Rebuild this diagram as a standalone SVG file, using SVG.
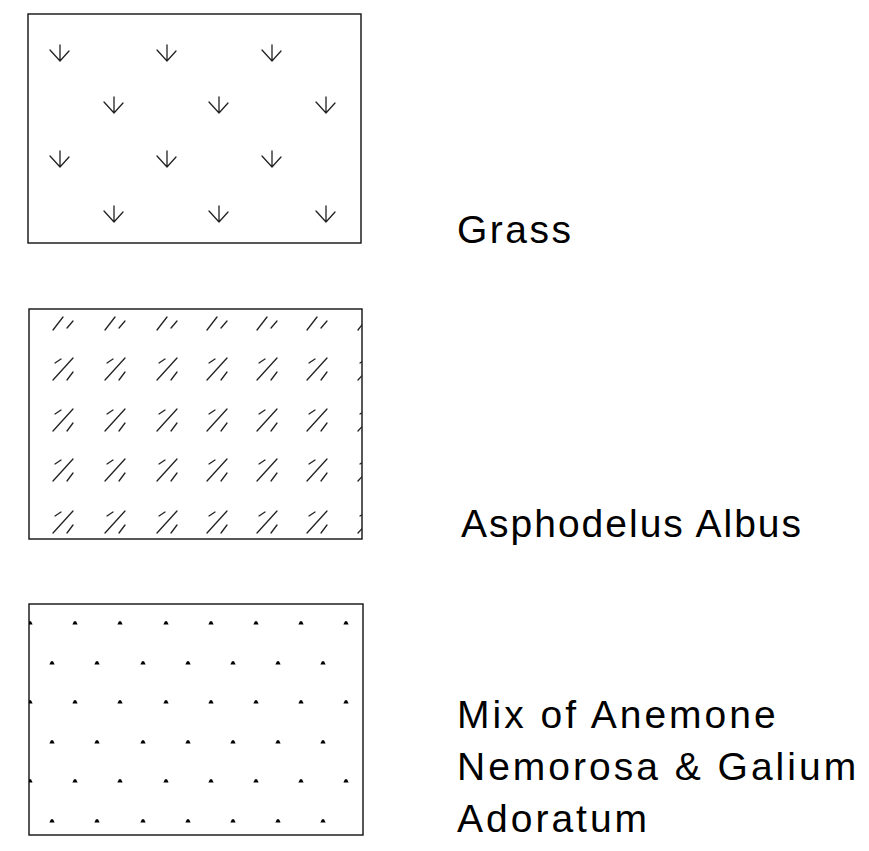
<svg xmlns="http://www.w3.org/2000/svg" width="869" height="851" viewBox="0 0 869 851">
<style>
.box{fill:none;stroke:#111;stroke-width:1.4}
.sym{fill:none;stroke:#222;stroke-width:1.3;stroke-linecap:round}
.lab{font-family:"Liberation Sans",Arial,sans-serif;font-size:39px;fill:#000;letter-spacing:2.5px}
</style>
<defs>
<g id="grass"><path class="sym" d="M0,-16V0M-10,-11L0,0L9,-10"/></g>
<g id="asph"><path class="sym" d="M-8,-6L-2,-10M-10,11L10,-11M4,11L10,3"/></g>
<g id="asph1"><path class="sym" d="M-10,7L0,-6M4,5L10,-2"/></g>
<path id="dot" d="M-2.6,1.6L-1,-1.7L1,-1.7L2.6,1.6Z" fill="#000"/>
<clipPath id="clip2"><rect x="29" y="309" width="333" height="230"/></clipPath>
<clipPath id="clip3"><rect x="29" y="604" width="334" height="231"/></clipPath>
</defs>
<rect width="869" height="851" fill="#fff"/>

<g id="grass-legend">
<rect class="box" x="28" y="14" width="333" height="229"/>
<use href="#grass" x="60" y="61"/><use href="#grass" x="167" y="61"/><use href="#grass" x="272" y="61"/>
<use href="#grass" x="114" y="113"/><use href="#grass" x="219" y="113"/><use href="#grass" x="326" y="113"/>
<use href="#grass" x="60" y="167"/><use href="#grass" x="167" y="167"/><use href="#grass" x="272" y="167"/>
<use href="#grass" x="114" y="222"/><use href="#grass" x="219" y="222"/><use href="#grass" x="326" y="222"/>
<text class="lab" x="457" y="243">Grass</text>
</g>

<g id="asphodelus-legend">
<rect class="box" x="29" y="309" width="333" height="230"/>
<g clip-path="url(#clip2)">
<use href="#asph1" x="63" y="323"/><use href="#asph1" x="115" y="323"/><use href="#asph1" x="167" y="323"/><use href="#asph1" x="217" y="323"/><use href="#asph1" x="267" y="323"/><use href="#asph1" x="317" y="323"/><use href="#asph1" x="368" y="323"/>
<use href="#asph" x="63" y="369"/><use href="#asph" x="115" y="369"/><use href="#asph" x="167" y="369"/><use href="#asph" x="217" y="369"/><use href="#asph" x="267" y="369"/><use href="#asph" x="317" y="369"/><use href="#asph" x="368" y="369"/>
<use href="#asph" x="63" y="420"/><use href="#asph" x="115" y="420"/><use href="#asph" x="167" y="420"/><use href="#asph" x="217" y="420"/><use href="#asph" x="267" y="420"/><use href="#asph" x="317" y="420"/><use href="#asph" x="368" y="420"/>
<use href="#asph" x="63" y="470"/><use href="#asph" x="115" y="470"/><use href="#asph" x="167" y="470"/><use href="#asph" x="217" y="470"/><use href="#asph" x="267" y="470"/><use href="#asph" x="317" y="470"/><use href="#asph" x="368" y="470"/>
<use href="#asph" x="63" y="522"/><use href="#asph" x="115" y="522"/><use href="#asph" x="167" y="522"/><use href="#asph" x="217" y="522"/><use href="#asph" x="267" y="522"/><use href="#asph" x="317" y="522"/><use href="#asph" x="368" y="522"/>
</g>
<text class="lab" x="461" y="537" style="letter-spacing:2px">Asphodelus Albus</text>
</g>

<g id="mix-legend">
<rect class="box" x="29" y="604" width="334" height="231"/>
<g clip-path="url(#clip3)">
<use href="#dot" x="30" y="623"/><use href="#dot" x="75" y="623"/><use href="#dot" x="120" y="623"/><use href="#dot" x="166" y="623"/><use href="#dot" x="211" y="623"/><use href="#dot" x="256" y="623"/><use href="#dot" x="301" y="623"/><use href="#dot" x="346" y="623"/>
<use href="#dot" x="52" y="663"/><use href="#dot" x="97" y="663"/><use href="#dot" x="143" y="663"/><use href="#dot" x="188" y="663"/><use href="#dot" x="233" y="663"/><use href="#dot" x="278" y="663"/><use href="#dot" x="323" y="663"/>
<use href="#dot" x="30" y="702"/><use href="#dot" x="75" y="702"/><use href="#dot" x="120" y="702"/><use href="#dot" x="166" y="702"/><use href="#dot" x="211" y="702"/><use href="#dot" x="256" y="702"/><use href="#dot" x="301" y="702"/><use href="#dot" x="346" y="702"/>
<use href="#dot" x="52" y="742"/><use href="#dot" x="97" y="742"/><use href="#dot" x="143" y="742"/><use href="#dot" x="188" y="742"/><use href="#dot" x="233" y="742"/><use href="#dot" x="278" y="742"/><use href="#dot" x="323" y="742"/>
<use href="#dot" x="30" y="781"/><use href="#dot" x="75" y="781"/><use href="#dot" x="120" y="781"/><use href="#dot" x="166" y="781"/><use href="#dot" x="211" y="781"/><use href="#dot" x="256" y="781"/><use href="#dot" x="301" y="781"/><use href="#dot" x="346" y="781"/>
<use href="#dot" x="52" y="821"/><use href="#dot" x="97" y="821"/><use href="#dot" x="143" y="821"/><use href="#dot" x="188" y="821"/><use href="#dot" x="233" y="821"/><use href="#dot" x="278" y="821"/><use href="#dot" x="323" y="821"/>
</g>
<text class="lab" x="457" y="728" style="letter-spacing:3px">Mix of Anemone</text>
<text class="lab" x="457" y="780" style="letter-spacing:3px">Nemorosa &amp; Galium</text>
<text class="lab" x="457" y="832" style="letter-spacing:3px">Adoratum</text>
</g>
</svg>
